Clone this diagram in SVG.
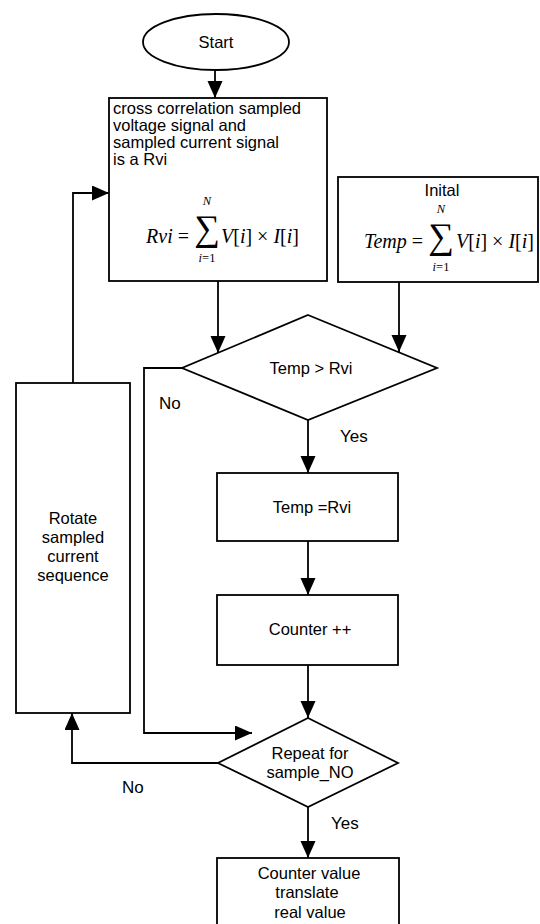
<svg xmlns="http://www.w3.org/2000/svg" width="540" height="924" viewBox="0 0 540 924">
<defs>
<marker id="arr" markerUnits="userSpaceOnUse" markerWidth="18" markerHeight="16" refX="17" refY="7.5" orient="auto">
<path d="M0,0 L17,7.5 L0,15 Z" fill="#000"/>
</marker>
<style>
.sh{fill:#fff;stroke:#000;stroke-width:1.8}
.t{font-family:"Liberation Sans",Arial,sans-serif;font-size:16.5px;fill:#000}
.c{text-anchor:middle}
.m{font-family:"Liberation Serif","Times New Roman",serif;font-size:20px;font-style:italic;fill:#000}
.up{font-style:normal}
.sm{font-family:"Liberation Serif","Times New Roman",serif;font-size:12.5px;font-style:italic;fill:#000;text-anchor:middle}
.sig{font-family:"Liberation Serif","Times New Roman",serif;font-size:36px;fill:#000;text-anchor:middle}
.ln{fill:none;stroke:#000;stroke-width:1.8}
.lab{font-family:"Liberation Sans",Arial,sans-serif;font-size:17px;fill:#000}
</style>
</defs>
<rect width="540" height="924" fill="#fff"/>
<g id="connectors">
<path class="ln" d="M215,70 L215,98" marker-end="url(#arr)"/>
<path class="ln" d="M218,281 L218,353" marker-end="url(#arr)"/>
<path class="ln" d="M399,282 L399,352" marker-end="url(#arr)"/>
<path class="ln" d="M182,368 L144,368 L144,733 L252,733" marker-end="url(#arr)"/>
<path class="ln" d="M308,420 L308,473" marker-end="url(#arr)"/>
<path class="ln" d="M308,541 L308,595" marker-end="url(#arr)"/>
<path class="ln" d="M308,665 L308,718" marker-end="url(#arr)"/>
<path class="ln" d="M218,763 L72,763 L72,713" marker-end="url(#arr)"/>
<path class="ln" d="M73,383 L73,193 L109,193" marker-end="url(#arr)"/>
<path class="ln" d="M308,807 L308,858" marker-end="url(#arr)"/>
<text class="lab" x="159" y="409">No</text>
<text class="lab" x="340" y="442">Yes</text>
<text class="lab" x="122" y="793">No</text>
<text class="lab" x="331" y="829">Yes</text>
</g>
<g id="start">
<ellipse class="sh" cx="216" cy="42" rx="73" ry="28"/>
<text class="t c" x="216" y="48">Start</text>
</g>
<g id="cross">
<rect class="sh" x="109" y="98" width="218" height="183"/>
<text class="t" x="113" y="114">cross correlation sampled</text>
<text class="t" x="113" y="131">voltage signal and</text>
<text class="t" x="113" y="148">sampled current signal</text>
<text class="t" x="113" y="165">is a Rvi</text>
<text class="m" x="189" y="243" text-anchor="end">Rvi <tspan class="up">=</tspan></text>
<text class="sig" x="207" y="240">∑</text>
<text class="sm" x="207" y="205">N</text>
<text class="sm" x="207" y="262">i<tspan class="up">=1</tspan></text>
<text class="m" x="221" y="243">V<tspan class="up">[</tspan>i<tspan class="up">] × </tspan>I<tspan class="up">[</tspan>i<tspan class="up">]</tspan></text>
</g>
<g id="initial">
<rect class="sh" x="338" y="177" width="200" height="105"/>
<text class="t c" x="442" y="196">Inital</text>
<text class="m" x="423" y="248" text-anchor="end">Temp <tspan class="up">=</tspan></text>
<text class="sig" x="441" y="248">∑</text>
<text class="sm" x="441" y="213">N</text>
<text class="sm" x="441" y="271">i<tspan class="up">=1</tspan></text>
<text class="m" x="456" y="248">V<tspan class="up">[</tspan>i<tspan class="up">] × </tspan>I<tspan class="up">[</tspan>i<tspan class="up">]</tspan></text>
</g>
<g id="cmp">
<polygon class="sh" points="308,315 437,368 308,420 182,368"/>
<text class="t c" x="311" y="374">Temp &gt; Rvi</text>
</g>
<g id="rotate">
<rect class="sh" x="16" y="383" width="114" height="330"/>
<text class="t c" x="73" y="524">Rotate</text>
<text class="t c" x="73" y="543">sampled</text>
<text class="t c" x="73" y="562">current</text>
<text class="t c" x="73" y="581">sequence</text>
</g>
<g id="assign">
<rect class="sh" x="217" y="473" width="181" height="68"/>
<text class="t c" x="312" y="513">Temp =Rvi</text>
</g>
<g id="counter">
<rect class="sh" x="217" y="595" width="181" height="70"/>
<text class="t c" x="310" y="635">Counter ++</text>
</g>
<g id="repeat">
<polygon class="sh" points="308,718 398,763 308,807 218,763"/>
<text class="t c" x="310" y="759">Repeat for</text>
<text class="t c" x="310" y="778">sample_NO</text>
</g>
<g id="result">
<rect class="sh" x="217" y="858" width="182" height="80"/>
<text class="t c" x="309" y="879">Counter value</text>
<text class="t c" x="307" y="898">translate</text>
<text class="t c" x="310" y="918">real value</text>
</g>
</svg>
